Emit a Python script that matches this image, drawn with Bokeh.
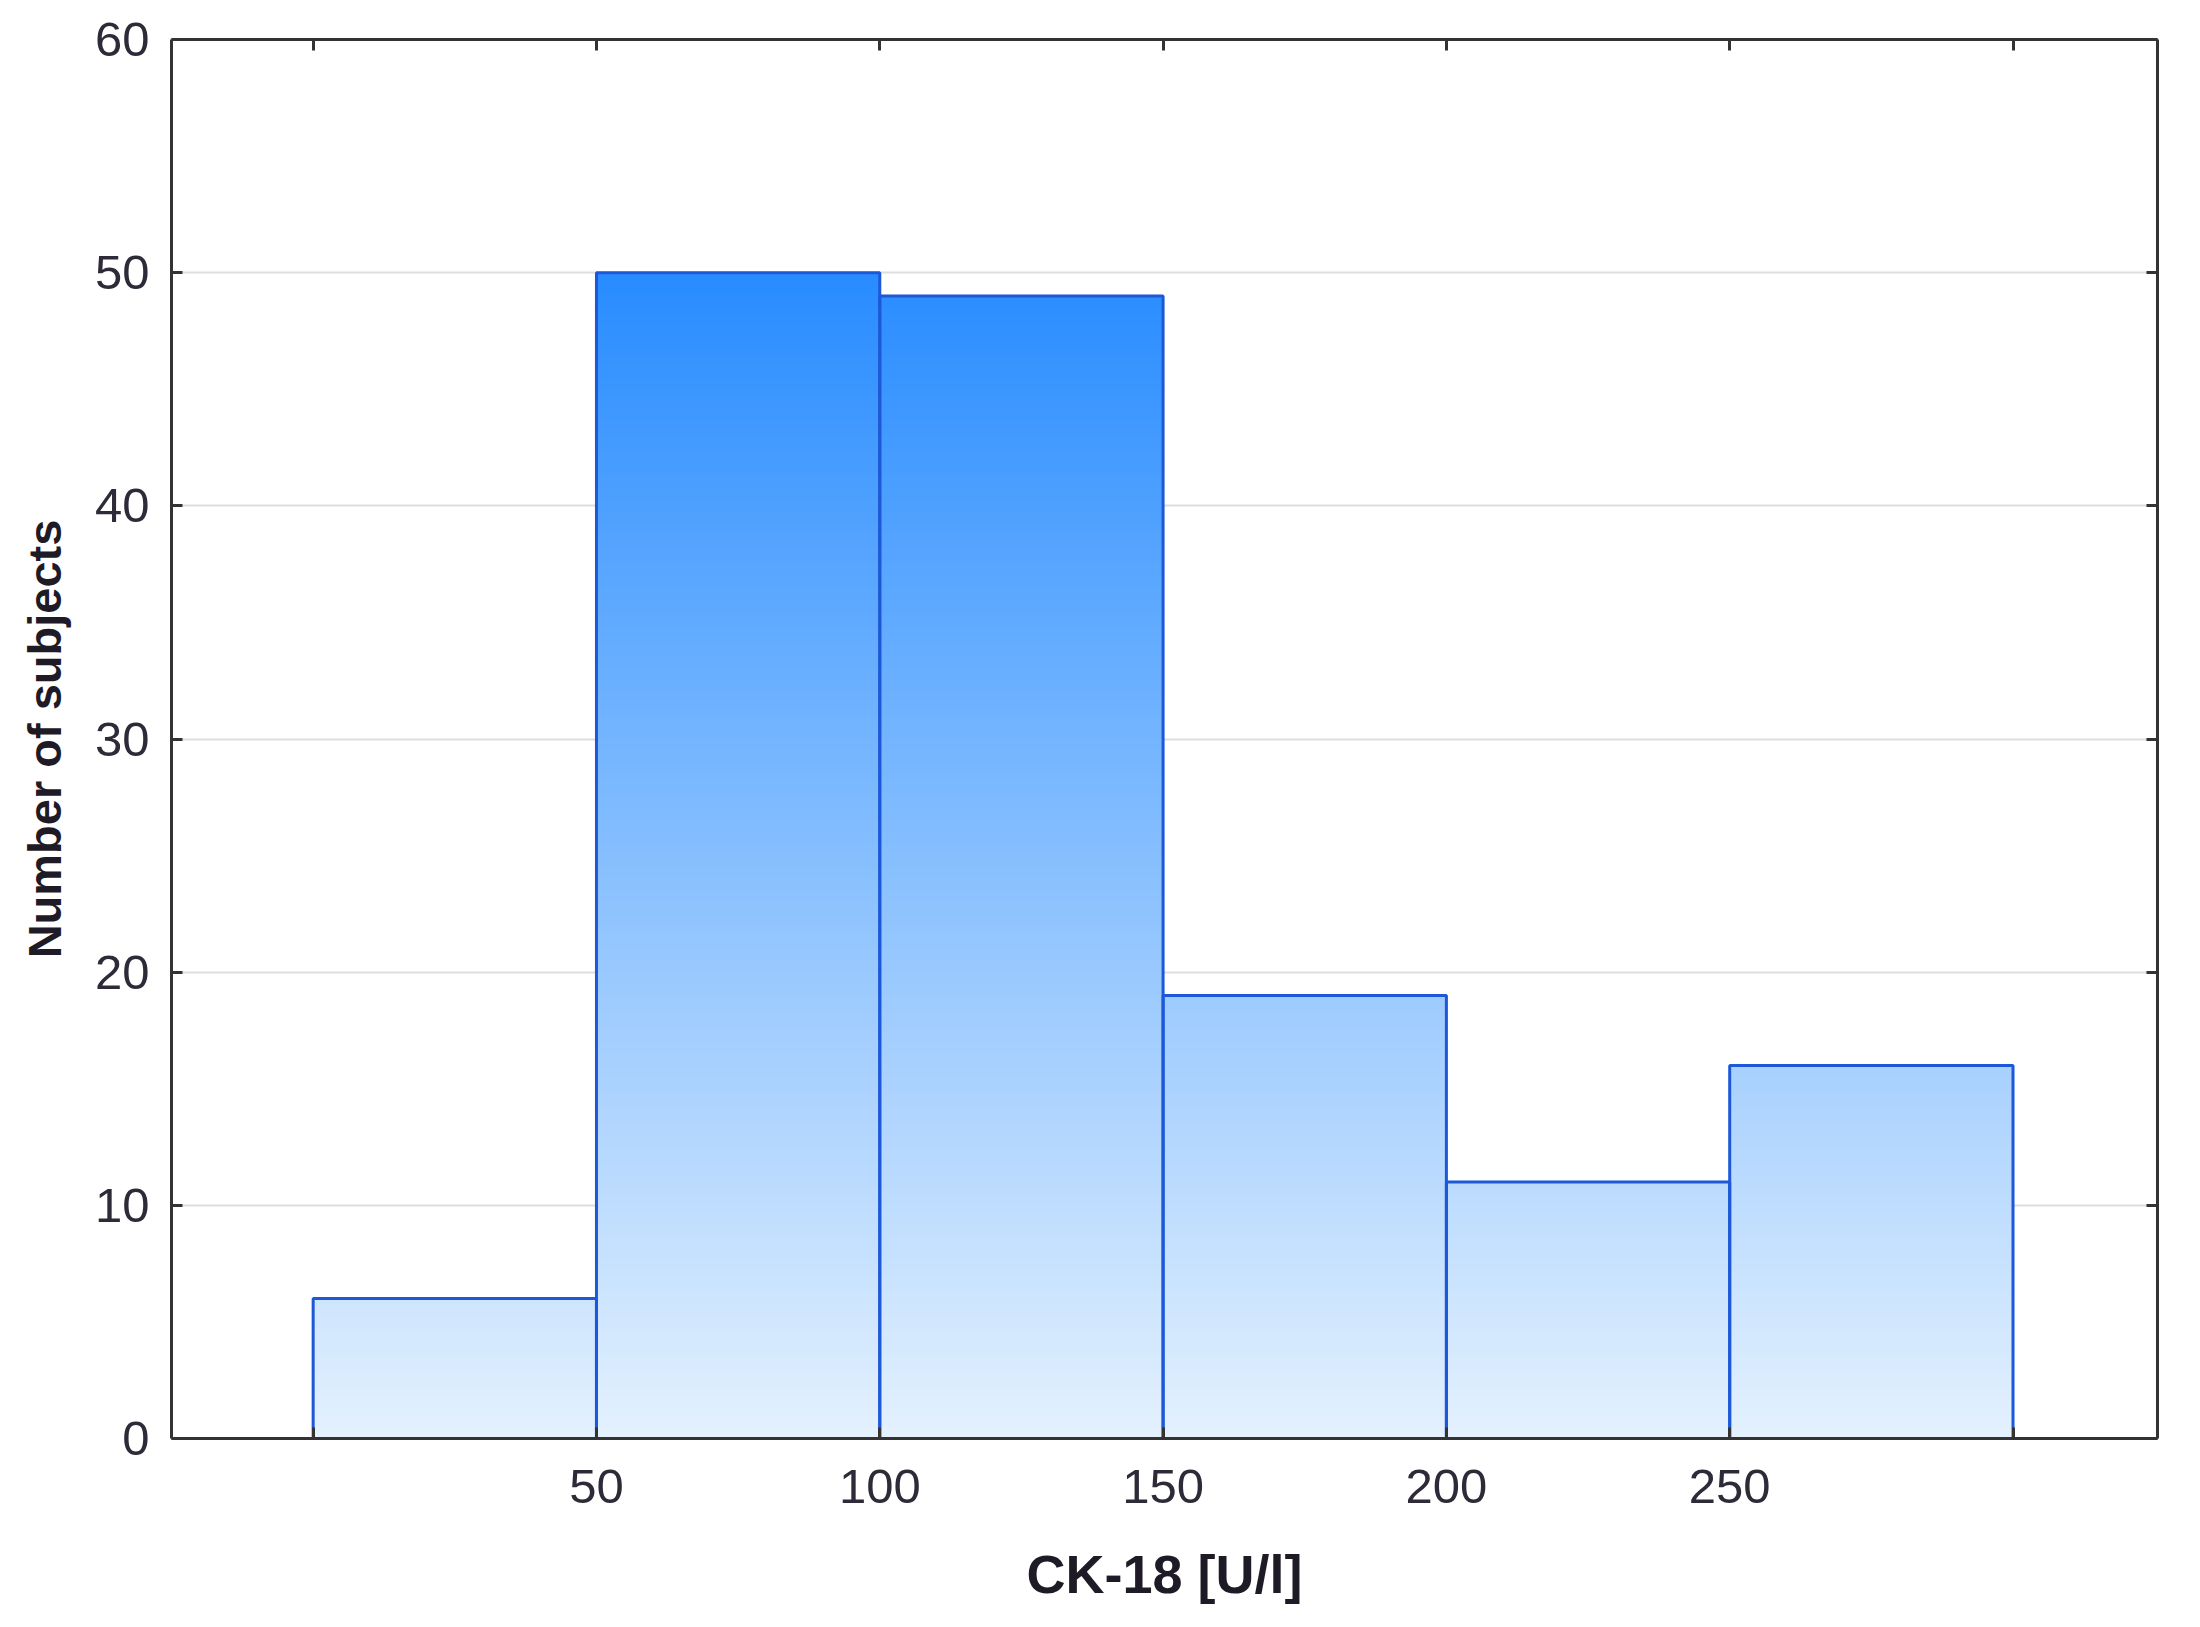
import numpy as np
from bokeh.plotting import figure
from bokeh.models import Range1d, FixedTicker, LinearAxis, ColumnDataSource, CustomLabelingPolicy
from bokeh.embed import file_html
from bokeh.resources import INLINE

# ---- data ----
bin_left = [0, 50, 100, 150, 200, 250]
bin_right = [50, 100, 150, 200, 250, 300]
counts = [6, 50, 49, 19, 11, 16]
x_ticks = [0, 50, 100, 150, 200, 250, 300]
y_ticks = [0, 10, 20, 30, 40, 50, 60]
x_title = "CK-18 [U/l]"
y_title = "Number of subjects"

TICK_FONT = "'Liberation Sans Narrow', 'Arial Narrow', 'Liberation Sans', sans-serif"
TITLE_FONT = "'Liberation Sans', Arial, sans-serif"
TEXT_COLOR = "#2e2a38"
AXIS_COLOR = "#333333"

p = figure(width=2184, height=1611, output_backend="svg", toolbar_location=None,
           x_range=Range1d(-25, 325.5), y_range=Range1d(0, 60),
           min_border_left=171, min_border_right=27, min_border_top=39, min_border_bottom=173)
p.outline_line_color = None
p.background_fill_color = "white"
p.border_fill_color = "white"

# ---- gradient bars (thin horizontal strips, color by y) ----
c_bot = np.array([228, 241, 254])
c_top = np.array([40, 140, 255])
dy = 0.25
L, R, B, T, C = [], [], [], [], []
for l, r, h in zip(bin_left, bin_right, counts):
    y0 = 0.0
    while y0 < h:
        top = min(h, y0 + dy * 1.6)
        t = min(1.0, (y0 + dy / 2) / 50.0)
        col = (c_bot + (c_top - c_bot) * t).round().astype(int)
        L.append(l); R.append(r); B.append(y0); T.append(top)
        C.append("#%02x%02x%02x" % tuple(col))
        y0 += dy
strips = ColumnDataSource(dict(left=L, right=R, bottom=B, top=T, color=C))
p.quad(left="left", right="right", bottom="bottom", top="top", source=strips,
       fill_color="color", line_color=None)

bars = ColumnDataSource(dict(left=bin_left, right=bin_right, top=counts, bottom=[0] * len(counts)))
p.quad(left="left", right="right", bottom="bottom", top="top", source=bars,
       fill_color=None, line_color="#1d58d8", line_width=3)

# ---- axes ----
def style_axis(ax):
    ax.axis_line_color = AXIS_COLOR
    ax.axis_line_width = 3
    ax.major_tick_line_color = AXIS_COLOR
    ax.major_tick_line_width = 3
    ax.major_tick_in = 11
    ax.major_tick_out = 0
    ax.minor_tick_line_color = None

hide_all = CustomLabelingPolicy(code="""
for (const i of Array.from(indices)) indices.unset(i)
return indices
""")
hide_ends = CustomLabelingPolicy(code="""
const arr = Array.from(indices)
if (arr.length > 0) { indices.unset(arr[0]); indices.unset(arr[arr.length - 1]) }
return indices
""")

xa = p.xaxis[0]
xa.ticker = FixedTicker(ticks=x_ticks)
xa.major_label_policy = hide_ends
style_axis(xa)
xa.major_label_text_font = TICK_FONT
xa.major_label_text_font_size = "49px"
xa.major_label_text_color = TEXT_COLOR
xa.major_label_standoff = 31
xa.axis_label = x_title
xa.axis_label_text_font = TITLE_FONT
xa.axis_label_text_font_style = "bold"
xa.axis_label_text_font_size = "54px"
xa.axis_label_text_color = "#1e1a26"
xa.axis_label_standoff = 38

ya = p.yaxis[0]
ya.ticker = FixedTicker(ticks=y_ticks)
style_axis(ya)
ya.major_label_text_font = TICK_FONT
ya.major_label_text_font_size = "49px"
ya.major_label_text_color = TEXT_COLOR
ya.major_label_standoff = 22
ya.axis_label = y_title
ya.axis_label_text_font = TITLE_FONT
ya.axis_label_text_font_style = "bold"
ya.axis_label_text_font_size = "47px"
ya.axis_label_text_color = "#1e1a26"
ya.axis_label_standoff = 21

top_ax = LinearAxis(ticker=FixedTicker(ticks=x_ticks), major_label_policy=hide_all,
                    major_label_standoff=0)
style_axis(top_ax)
p.add_layout(top_ax, "above")

right_ax = LinearAxis(ticker=FixedTicker(ticks=y_ticks), major_label_policy=hide_all,
                      major_label_standoff=0)
style_axis(right_ax)
p.add_layout(right_ax, "right")

# ---- grid ----
p.xgrid.visible = False
p.ygrid.ticker = FixedTicker(ticks=[10, 20, 30, 40, 50])
p.ygrid.grid_line_color = "#dedede"
p.ygrid.grid_line_width = 2

open("out.html", "w").write(file_html(p, INLINE))
